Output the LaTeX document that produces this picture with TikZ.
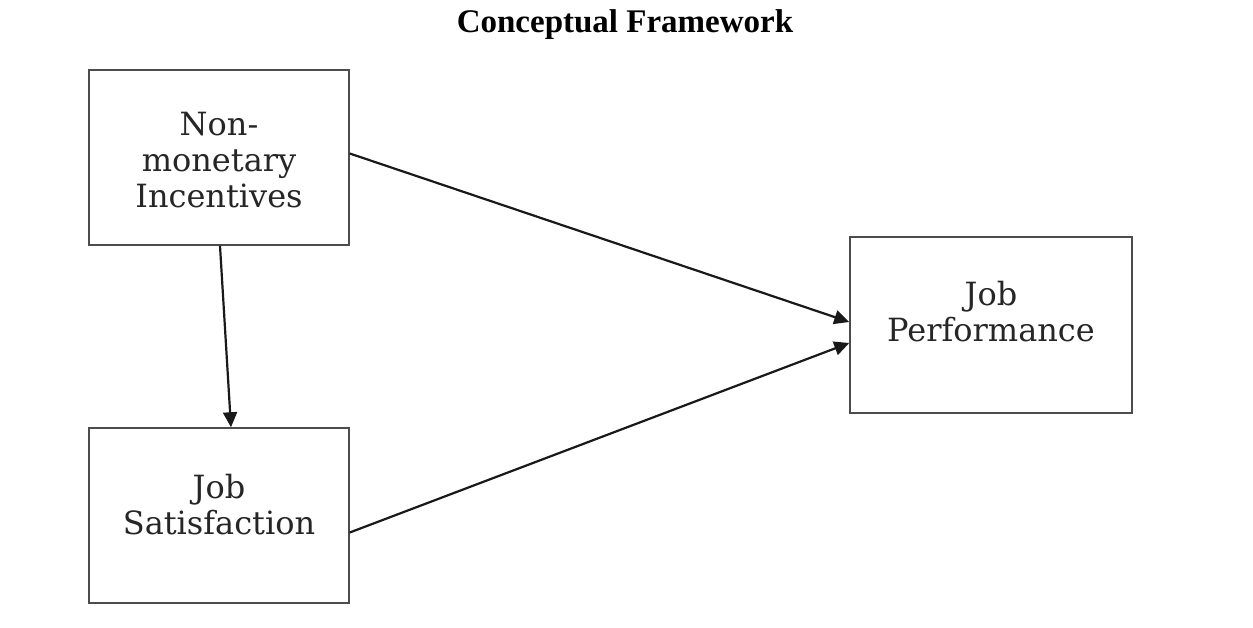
\documentclass[tikz,border=0pt]{standalone}
\usepackage{fontspec}
\setmainfont{Liberation Serif}
\newfontfamily\boxfont{DejaVu Serif}
\usetikzlibrary{arrows.meta,positioning}
\tikzset{
  box/.style={draw=black!70, line width=1.5pt, minimum width=260pt, minimum height=175pt, inner sep=0pt},
  boxtext/.style={align=center, font=\boxfont\fontsize{32}{36}\selectfont, text=black!85},
  link/.style={-{Triangle[length=15pt,width=14pt]}, line width=2.2pt, black!90}
}
\begin{document}
\begin{tikzpicture}[x=1pt,y=-1pt]
\useasboundingbox (0,0) rectangle (1253,628);
% title
\node (title) at (625,25) {\fontsize{33}{38}\selectfont\bfseries Conceptual Framework};
% boxes
\node [box] (incent) at (219,157.5) {};
\node [box] (satis) at (219,515.5) {};
\node [box, minimum width=282pt, minimum height=176pt] (perf) at (991,325) {};
% box texts
\node [boxtext] (incenttext) at (219,160) {Non-\\monetary\\Incentives};
\node [boxtext] (satistext) at (219,505) {Job\\Satisfaction};
\node [boxtext] (perftext) at (991,312) {Job\\Performance};
% links
\draw [link] ([xshift=1pt]incent.south) -- ([xshift=12pt]satis.north);
\draw [link] ([yshift=4pt]incent.east) -- ([yshift=3pt]perf.west);
\draw [link] ([yshift=-17pt]satis.east) -- ([yshift=-18pt]perf.west);
\end{tikzpicture}
\end{document}
